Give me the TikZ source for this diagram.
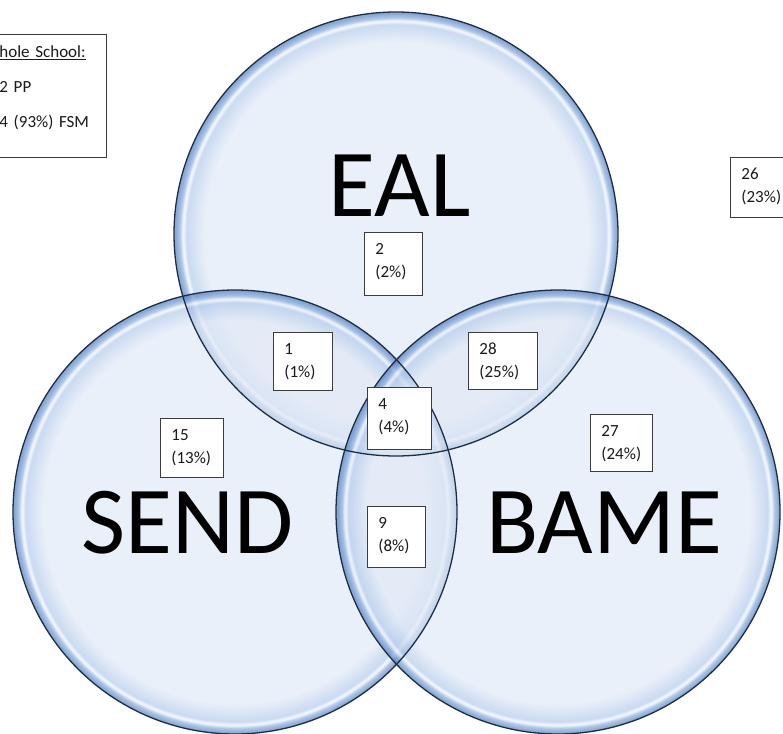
\documentclass[tikz,border=0pt]{standalone}
\usepackage{fontspec}
\setmainfont{Carlito}
\usetikzlibrary{positioning}
\definecolor{ink}{HTML}{1A1A1A}
\definecolor{boxln}{HTML}{3C3C3C}
\definecolor{ring}{HTML}{1C2E45}
\definecolor{cin}{HTML}{E1E9F6}
\definecolor{csoft}{HTML}{B3CBEC}
\definecolor{chi}{HTML}{F4F8FE}
\definecolor{cmid}{HTML}{8DB0DF}
\definecolor{cdeep}{HTML}{5883C2}
% glossy rim: 25bp is the circle edge
\pgfdeclareradialshading{bubble}{\pgfpoint{0bp}{0bp}}{color(0bp)=(cin); color(21.6bp)=(cin); color(23.6bp)=(csoft); color(24bp)=(chi); color(24.35bp)=(cmid); color(24.85bp)=(cdeep); color(25bp)=(cdeep); color(50bp)=(cdeep)}
\tikzset{
  bubble/.style={shading=bubble,fill opacity=0.7},
  rim/.style={draw=ring,line width=1.3pt},
  big/.style={font=\fontsize{96}{115}\selectfont,text=black,anchor=base,inner sep=0pt},
  cnt/.style 2 args={draw=boxln,line width=0.9pt,fill=white,anchor=north west,align=left,inner xsep=11pt,inner ysep=6pt,text width=#1pt,text height=16pt,text depth=#2pt,font=\fontsize{17}{23}\selectfont,text=ink}
}

\begin{document}
\begin{tikzpicture}[x=1pt,y=-1pt]
\useasboundingbox (0,0) rectangle (783,733);
\clip (0,0) rectangle (783,733);
% ---------------- circles ----------------
\coordinate (cEal) at (396,234);
\coordinate (cSend) at (235,512);
\coordinate (cBame) at (558,512);
\foreach \c in {cEal,cSend,cBame}{\shade[bubble] (\c) circle[radius=222];}
\foreach \c in {cEal,cSend,cBame}{\draw[rim] (\c) circle[radius=222];}
% ---------------- set names ----------------
\node[big] (ealtxt) at (399.5,216) {EAL};
\node[big] (sendtxt) at (187.5,553) {SEND};
\node[big] (bametxt) at (604,553) {BAME};
% ---------------- counts ----------------
\node[cnt={36}{35}] (nEal) at (364,232) {2\\(2\%)};
\node[cnt={37}{30}] (nEalSend) at (273,332) {1\\(1\%)};
\node[cnt={47}{29}] (nEalBame) at (468,332) {28\\(25\%)};
\node[cnt={42}{34}] (nAll) at (367,387) {4\\(4\%)};
\node[cnt={41}{31}] (nSend) at (160,418) {15\\(13\%)};
\node[cnt={40}{29}] (nBame) at (590,414) {27\\(24\%)};
\node[cnt={36}{33}] (nSendBame) at (367,506) {9\\(8\%)};
\node[cnt={48}{32}] (nNone) at (730,157) {26\\(23\%)};
% ---------------- whole school ----------------
\node[cnt={96}{94},text height=17pt] (whole) at (-12,34) {\underline{hole School:}\\[12pt]2 PP\\[12pt]4 (93\%) FSM};
\end{tikzpicture}
\end{document}
